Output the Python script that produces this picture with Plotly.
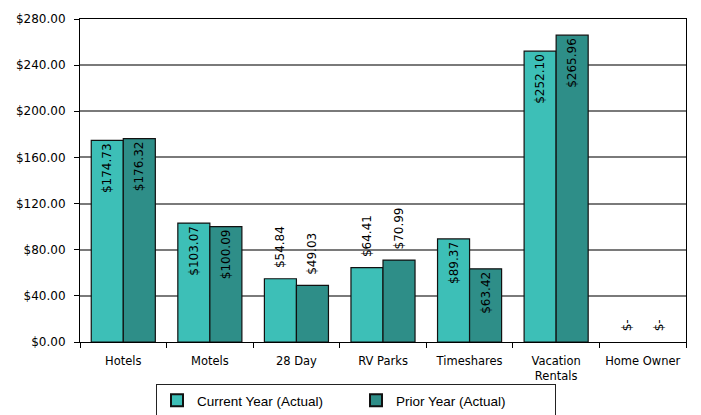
import plotly.graph_objects as go

categories = ["Hotels", "Motels", "28 Day", "RV Parks", "Timeshares", "Vacation<br>Rentals", "Home Owner"]
current_year = [174.73, 103.07, 54.84, 64.41, 89.37, 252.10, 0.0]
prior_year = [176.32, 100.09, 49.03, 70.99, 63.42, 265.96, 0.0]
current_pos = ["inside", "inside", "outside", "outside", "inside", "inside", "outside"]
prior_pos = ["inside", "inside", "outside", "outside", "inside", "inside", "outside"]
y_ticks = [0, 40, 80, 120, 160, 200, 240, 280]
y_tick_text = [f"${v:,.2f}" for v in y_ticks]

NB = "\u00a0"


def labels(vals, pos):
    out = []
    for v, p in zip(vals, pos):
        s = "$-" if v == 0 else f"${v:,.2f}"
        if p == "outside":
            s = NB * 2 + s
        out.append(s)
    return out


def outline(vals):
    return [0 if v == 0 else 1.2 for v in vals]


FONT = "Liberation Sans, Arial, sans-serif"
NUMFONT = "DejaVu Sans, Verdana, sans-serif"

# the page body adds an 8px offset; size the figure to fit the 701x415 window
PAGE_OFFSET = 8

fig = go.Figure()
for name, vals, pos, color in [
    ("Current Year (Actual)", current_year, current_pos, "#3DBFB7"),
    ("Prior Year (Actual)", prior_year, prior_pos, "#2E8E88"),
]:
    fig.add_trace(go.Bar(
        name=name, x=categories, y=vals,
        text=labels(vals, pos), textposition=pos, textangle=-90,
        insidetextanchor="end", texttemplate="%{text}", constraintext="none",
        textfont=dict(family=NUMFONT, size=12, color="black"),
        marker=dict(color=color, line=dict(color="#111", width=outline(vals))),
        cliponaxis=False,
    ))

fig.update_layout(
    width=701 - PAGE_OFFSET, height=415 - PAGE_OFFSET,
    margin=dict(l=80 - PAGE_OFFSET, r=15, t=19 - PAGE_OFFSET, b=73, autoexpand=False),
    paper_bgcolor="white", plot_bgcolor="white",
    barmode="group", bargap=0.26, bargroupgap=0,
    font=dict(family=FONT, size=12.5, color="black"),
    showlegend=True,
    legend=dict(
        orientation="h",
        x=(156 - 80) / 606, xanchor="left", y=-(384 - 342) / 323, yanchor="top",
        bordercolor="#222", borderwidth=1, bgcolor="white",
        font=dict(family=FONT, size=13.5, color="black"),
        entrywidth=154, itemsizing="constant",
    ),
)
fig.update_xaxes(
    automargin=False,
    showline=True, linecolor="black", linewidth=1, mirror=True,
    ticks="outside", tickson="boundaries", ticklen=5, tickcolor="black",
    tickfont=dict(family=NUMFONT, size=11.5, color="black"),
    ticklabelstandoff=8,
    showgrid=False,
)
fig.update_yaxes(
    automargin=False,
    range=[0, 280], tickvals=y_ticks, ticktext=y_tick_text,
    showline=True, linecolor="black", linewidth=1, mirror=True,
    ticks="outside", ticklen=5, tickcolor="black",
    showgrid=True, gridcolor="#7a7a7a", gridwidth=1.5,
    tickfont=dict(family=NUMFONT, size=12, color="black"),
    ticklabelstandoff=6,
    zeroline=False,
)

fig.write_html("out.html")
